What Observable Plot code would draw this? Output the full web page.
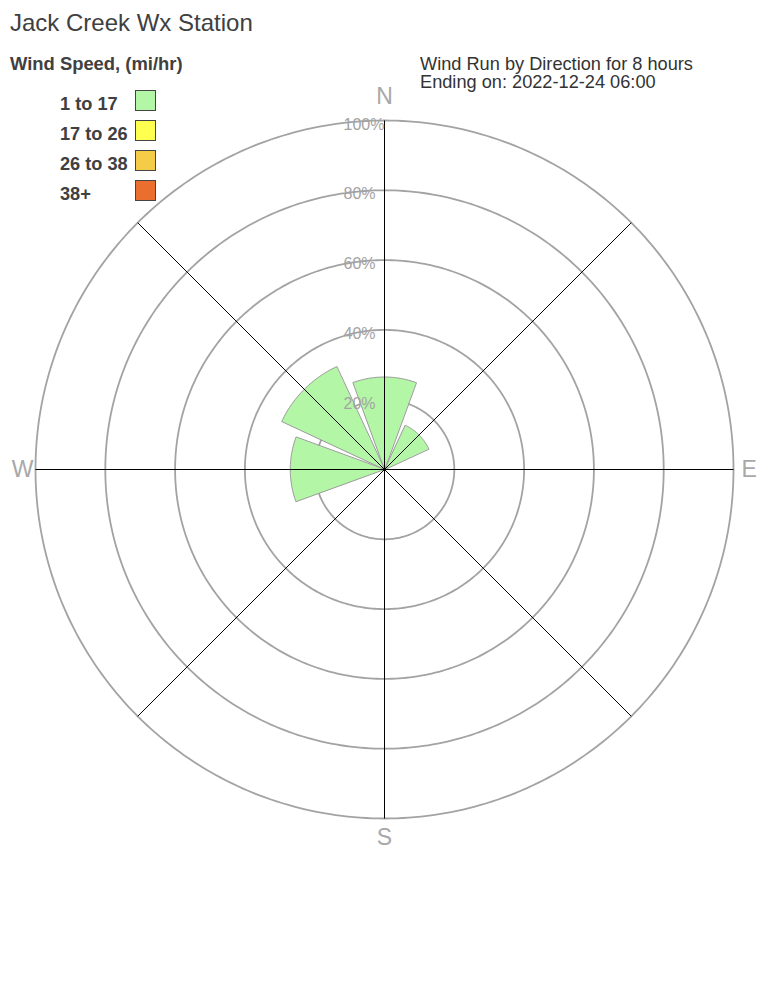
<!DOCTYPE html>
<html>
<head>
<meta charset="utf-8">
<script src="https://cdn.jsdelivr.net/npm/d3@7"></script>
<script src="https://cdn.jsdelivr.net/npm/@observablehq/plot@0.6"></script>
<style>
  html, body { margin: 0; padding: 0; background: #fff; }
  #wrap { position: relative; width: 768px; height: 1008px; font-family: "Liberation Sans", Arial, sans-serif; }
  #wrap svg { position: absolute; left: 0; top: 0; }
  .t { position: absolute; line-height: 1; white-space: nowrap; }
  .box { position: absolute; width: 19px; height: 19px; border: 1.5px solid #444; box-sizing: content-box; }
</style>
</head>
<body>
<div id="wrap"></div>
<script>
// ---- data ----
const directions = ["N", "NE", "E", "SE", "S", "SW", "W", "NW"];
const directionAngles = [0, 45, 90, 135, 180, 225, 270, 315];
const speedBins = ["1 to 17", "17 to 26", "26 to 38", "38+"];
const binColors = ["#b3f7a6", "#ffff4f", "#f5cc47", "#ea6e2e"];
const pct_1to17  = [26.5, 14, 0, 0, 0, 0, 27, 32.5];
const pct_17to26 = [0, 0, 0, 0, 0, 0, 0, 0];
const pct_26to38 = [0, 0, 0, 0, 0, 0, 0, 0];
const pct_38plus = [0, 0, 0, 0, 0, 0, 0, 0];
const ringTicks = [20, 40, 60, 80, 100];
const ringLabels = ["20%", "40%", "60%", "80%", "100%"];
const compassLabels = ["N", "E", "S", "W"];
const titleText = "Jack Creek Wx Station";
const legendTitle = "Wind Speed, (mi/hr)";
const subtitleLines = ["Wind Run by Direction for 8 hours", "Ending on: 2022-12-24 06:00"];

const binValues = [pct_1to17, pct_17to26, pct_26to38, pct_38plus];

// ---- geometry helpers (polar -> cartesian in data units) ----
const rad = a => a * Math.PI / 180;
const px = (r, a) => r * Math.sin(rad(a));
const py = (r, a) => r * Math.cos(rad(a));
const halfWidth = 20;

// wedges
const wedgePts = [];
directions.forEach((d, i) => {
  let r0 = 0;
  binValues.forEach((vals, b) => {
    const v = vals[i];
    if (v > 0) {
      const r1 = r0 + v;
      const a = directionAngles[i];
      const id = d + "-" + b;
      const pts = [];
      if (r0 === 0) pts.push([0, 0]);
      else for (let t = a + halfWidth; t >= a - halfWidth; t -= 1) pts.push([px(r0, t), py(r0, t)]);
      for (let t = a - halfWidth; t <= a + halfWidth; t += 1) pts.push([px(r1, t), py(r1, t)]);
      pts.forEach(p => wedgePts.push({id, x: p[0], y: p[1], color: binColors[b]}));
      r0 = r1;
    }
  });
});

// rings
const ringPts = [];
ringTicks.forEach(r => {
  for (let t = 0; t <= 360; t += 1) ringPts.push({r, x: px(r, t), y: py(r, t)});
});

const W = 768, H = 1008, cx = 384, cy = 469, k = 3.49;

const chart = Plot.plot({
  width: W, height: H,
  margin: 0,
  x: {domain: [-cx / k, (W - cx) / k], range: [0, W], axis: null},
  y: {domain: [-(H - cy) / k, cy / k], range: [H, 0], axis: null},
  color: {type: "identity"},
  style: {fontFamily: "'Liberation Sans', Arial, sans-serif", background: "white"},
  marks: [
    Plot.line(ringPts, {x: "x", y: "y", z: "r", stroke: "#a3a3a3", strokeWidth: 1.8}),
    Plot.line(wedgePts, {x: "x", y: "y", z: "id", fill: "color", stroke: "#9a9a9a", strokeWidth: 1, curve: "linear-closed"}),
    Plot.link(directionAngles, {x1: 0, y1: 0, x2: a => px(100, a), y2: a => py(100, a), stroke: "black", strokeWidth: 1}),
    Plot.text(ringTicks, {x: 0, y: d => d, text: (d, i) => ringLabels[i], textAnchor: "start", dx: -41, dy: 4, fill: "#a3a3a3", fontSize: 16}),
    Plot.text([0], {x: 0, y: 100, text: () => compassLabels[0], dy: -24, fill: "#a8a8a8", fontSize: 23}),
    Plot.text([0], {x: 0, y: -100, text: () => compassLabels[2], dy: 19, fill: "#a8a8a8", fontSize: 23}),
    Plot.text([0], {x: 100, y: 0, text: () => compassLabels[1], textAnchor: "start", dx: 8, fill: "#a8a8a8", fontSize: 23}),
    Plot.text([0], {x: -100, y: 0, text: () => compassLabels[3], textAnchor: "end", dx: -2, fill: "#a8a8a8", fontSize: 23})
  ]
});

const wrap = document.getElementById("wrap");
wrap.appendChild(chart);

function addText(txt, left, top, size, weight, color) {
  const el = document.createElement("div");
  el.className = "t";
  el.textContent = txt;
  el.style.left = left + "px";
  el.style.top = top + "px";
  el.style.fontSize = size + "px";
  el.style.fontWeight = weight;
  el.style.color = color;
  wrap.appendChild(el);
}
addText(titleText, 10, 10.5, 24, "normal", "#404040");
addText(legendTitle, 10, 54.5, 18.4, "bold", "#404040");
speedBins.forEach((b, i) => {
  addText(b, 60, 94.5 + 30 * i, 18.2, "bold", "#404040");
  const box = document.createElement("div");
  box.className = "box";
  box.style.left = "135px";
  box.style.top = (90 + 30 * i) + "px";
  box.style.background = binColors[i];
  wrap.appendChild(box);
});
subtitleLines.forEach((s, i) => addText(s, 420, 55 + 18 * i, 18.2, "normal", "#333"));
</script>
</body>
</html>
